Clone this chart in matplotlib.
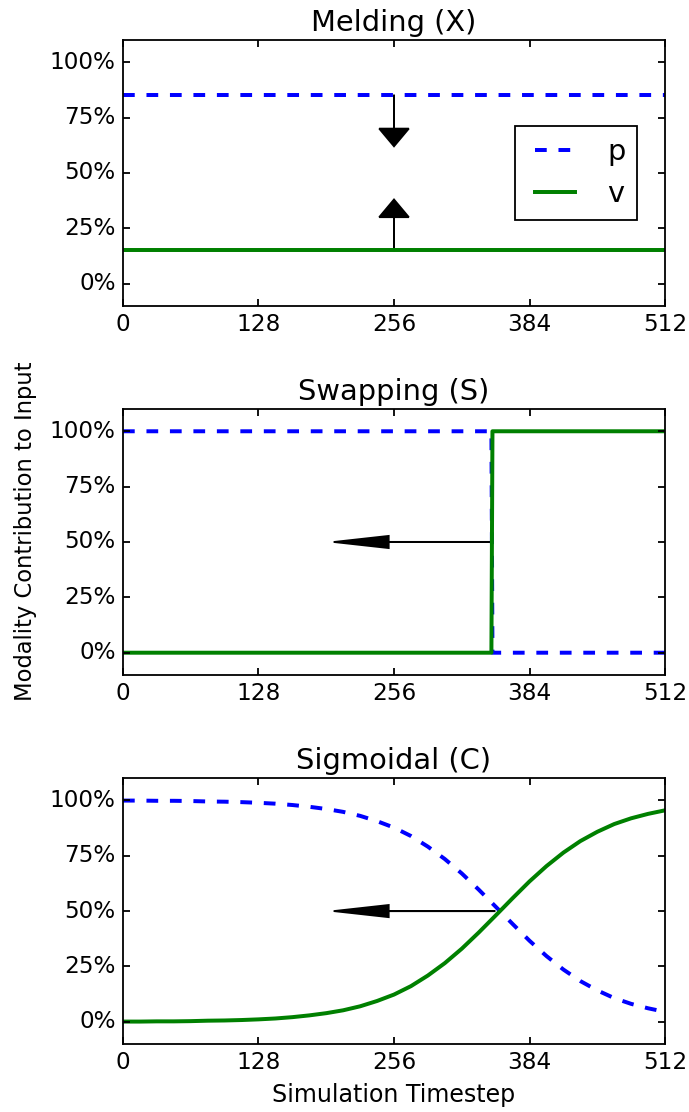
import matplotlib
matplotlib.use("Agg")
import matplotlib.pyplot as plt
from matplotlib.ticker import PercentFormatter

plt.style.use("classic")
plt.rcParams["lines.scale_dashes"] = False
plt.rcParams["font.family"] = "DejaVu Sans"
plt.rcParams["savefig.facecolor"] = "white"

# axis ticks
x_ticks = [0, 128, 256, 384, 512]
y_ticks = [0.0, 0.25, 0.5, 0.75, 1.0]

# Melding (X) - constant mix
meld_t = [0, 512]
meld_p = [0.85, 0.85]
meld_v = [0.15, 0.15]

# Swapping (S) - hard switch
swap_t = [0, 348, 349, 512]
swap_p = [1.0, 1.0, 0.0, 0.0]
swap_v = [0.0, 0.0, 1.0, 1.0]

# Sigmoidal (C) - every 16 steps
sig_t = [0, 16, 32, 48, 64, 80, 96, 112, 128, 144, 160, 176, 192, 208, 224, 240,
         256, 272, 288, 304, 320, 336, 352, 368, 384, 400, 416, 432, 448, 464,
         480, 496, 512]
sig_v = [0.001, 0.001, 0.002, 0.002, 0.003, 0.005, 0.006, 0.008, 0.011, 0.015,
         0.021, 0.029, 0.039, 0.052, 0.070, 0.094, 0.123, 0.161, 0.209, 0.265,
         0.330, 0.403, 0.480, 0.558, 0.634, 0.703, 0.764, 0.816, 0.858, 0.893,
         0.919, 0.939, 0.955]
sig_p = [0.999, 0.999, 0.998, 0.998, 0.997, 0.995, 0.994, 0.992, 0.989, 0.985,
         0.979, 0.971, 0.961, 0.948, 0.930, 0.906, 0.877, 0.839, 0.791, 0.735,
         0.670, 0.597, 0.520, 0.442, 0.366, 0.297, 0.236, 0.184, 0.142, 0.107,
         0.081, 0.061, 0.045]

titles = ["Melding (X)", "Swapping (S)", "Sigmoidal (C)"]

fig = plt.figure(figsize=(689 / 130, 1112 / 130), dpi=130)
axes = fig.subplots(3, 1)
fig.subplots_adjust(left=0.1785, right=0.9652, bottom=0.0612, top=0.964, hspace=0.389)

data = [(meld_t, meld_p, meld_v), (swap_t, swap_p, swap_v), (sig_t, sig_p, sig_v)]

for ax, (t, p, v), title in zip(axes, data, titles):
    ax.plot(t, p, c="blue", linewidth=2.2, linestyle=(0, (6.5, 6.5)), label="p")
    ax.plot(t, v, c="green", linewidth=2.2, label="v")
    ax.set_xlim(0, 512)
    ax.set_ylim(-0.1, 1.1)
    ax.set_xticks(x_ticks)
    ax.set_yticks(y_ticks)
    ax.yaxis.set_major_formatter(PercentFormatter(1.0, decimals=0))
    ax.tick_params(labelsize=12.8, length=4, width=1)
    ax.set_title(title, fontsize=16)

# arrows showing the direction of change
axes[0].arrow(256, 0.85, 0, -0.23, head_width=28, head_length=0.08,
              length_includes_head=True, fc="k", ec="k")
axes[0].arrow(256, 0.15, 0, 0.23, head_width=28, head_length=0.08,
              length_includes_head=True, fc="k", ec="k")
axes[1].arrow(349, 0.5, -150, 0, head_width=0.055, head_length=52,
              length_includes_head=True, fc="k", ec="k")
axes[2].arrow(351, 0.5, -152, 0, head_width=0.055, head_length=52,
              length_includes_head=True, fc="k", ec="k")

axes[0].legend(loc="center right", bbox_to_anchor=(0.975, 0.5), fontsize=16,
               numpoints=2, handlelength=2.0)

fig.text(26 / 689, 1 - 531 / 1112, "Modality Contribution to Input",
         rotation=90, ha="center", va="center", fontsize=12.5)
axes[2].set_xlabel("Simulation Timestep", fontsize=13.2)

fig.savefig("out.png", dpi=130)
